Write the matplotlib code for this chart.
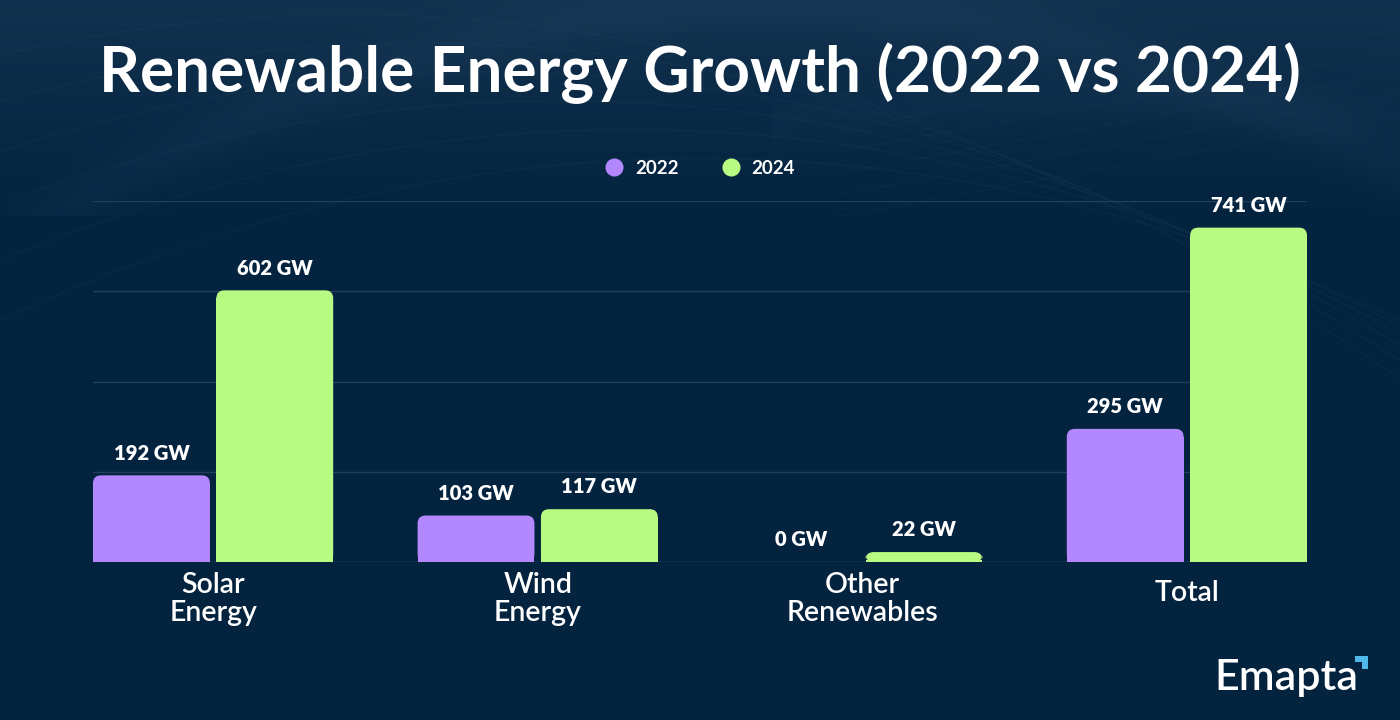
import numpy as np
import matplotlib
matplotlib.use("Agg")
import matplotlib.pyplot as plt
from matplotlib.patches import FancyBboxPatch, Polygon
from matplotlib.lines import Line2D

# ---- data ----
categories = ["Solar\nEnergy", "Wind\nEnergy", "Other\nRenewables", "Total"]
series_names = ["2022", "2024"]
values_2022 = [192, 103, 0, 295]
values_2024 = [602, 117, 22, 741]
yticks = [0, 200, 400, 600, 800]

# ---- style ----
BG = "#04233F"
C2022 = "#B388FF"
C2024 = "#B8FB82"
GRID = "#1F3F5C"
FONT = ["Lato", "DejaVu Sans"]
plt.rcParams["font.family"] = FONT

W, H = 14.0, 7.2
fig = plt.figure(figsize=(W, H), dpi=100)
fig.patch.set_facecolor(BG)

# background gradient (decorative)
bg = fig.add_axes([0, 0, 1, 1], zorder=-10)
bg.axis("off")
ny, nx = 360, 700
yy, xx = np.mgrid[0:ny, 0:nx]
yy = yy / ny
xx = xx / nx
base = np.array([4, 35, 63]) / 255.0
light = np.array([24, 55, 84]) / 255.0
t = np.clip(1 - yy / 0.33, 0, 1) ** 1.3
sw = 0.25 * np.exp(-((yy - (0.01 + 1.1 * (xx - 0.55) ** 2)) / 0.04) ** 2) * (yy < 0.3)
sw += 0.15 * np.exp(-((yy - (0.14 + 0.5 * (xx - 0.8) ** 2)) / 0.035) ** 2) * (xx > 0.55) * (yy < 0.35)
mix = np.clip(t * 0.75 + sw, 0, 1)[..., None]
img = base * (1 - mix) + light * mix
bg.imshow(img, extent=[0, 1, 0, 1], aspect="auto", origin="upper")
for k in range(6):
    xs = np.linspace(0.0, 1.0, 200)
    ys = 1 - (0.02 + 0.04 * k + 0.9 * (xs - 0.25 - 0.05 * k) ** 2)
    bg.plot(xs, ys, color="#3A5C7A", alpha=0.10, linewidth=1.0)
for k in range(5):
    xs = np.linspace(0.6, 1.0, 100)
    ys = 1 - (0.18 + 0.03 * k - 0.35 * (xs - 0.6))
    bg.plot(xs, ys, color="#3A5C7A", alpha=0.08, linewidth=1.0)
bg.set_xlim(0, 1)
bg.set_ylim(0, 1)

# main axes
ax = fig.add_axes([93 / 1400, 158 / 720, 1214 / 1400, 361 / 720])
ax.set_facecolor("none")
n = len(categories)
x = np.arange(n)
bw = 0.36
off = 0.19
ax.set_xlim(-0.37, n - 1 + 0.37)
ax.set_ylim(0, 800)
ax.set_yticks(yticks)
ax.yaxis.grid(True, color=GRID, linewidth=1.0)
ax.set_axisbelow(True)
for s in ax.spines.values():
    s.set_visible(False)
ax.tick_params(axis="y", left=False, labelleft=False)
ax.set_xticks(x)
ax.set_xticklabels([])
ax.tick_params(axis="x", length=0)

# category labels (two-line labels sit slightly lower, as in the reference)
ax_h_px = 361
for xi, cat in zip(x, categories):
    lines = cat.count("\n") + 1
    center_px = 37 if lines > 1 else 31
    ax.text(xi, -center_px / ax_h_px, cat, transform=ax.get_xaxis_transform(),
            ha="center", va="center", color="white", fontsize=20.5,
            fontweight="semibold", linespacing=1.07, multialignment="center")

fig.canvas.draw()
bbox = ax.get_window_extent()
rpx = 8
rx = rpx * (ax.get_xlim()[1] - ax.get_xlim()[0]) / bbox.width
ry = rpx * (ax.get_ylim()[1] - ax.get_ylim()[0]) / bbox.height

def rounded_bars(xs, vals, color):
    bars = ax.bar(xs, [max(v - ry, 0) if v > 0 else 0 for v in vals], width=bw,
                  color=color, linewidth=0, zorder=3)
    for b, v in zip(bars, vals):
        if v <= 0:
            continue
        p = FancyBboxPatch((b.get_x(), 0), bw, v,
                           boxstyle=f"round,pad=0,rounding_size={rx}",
                           mutation_aspect=ry / rx, facecolor=color,
                           linewidth=0, zorder=3)
        ax.add_patch(p)
    for xi, v in zip(xs, vals):
        ax.annotate(f"{v} GW", (xi, v), xytext=(0, 16), textcoords="offset points",
                    ha="center", va="center", color="white", fontsize=14.5,
                    fontweight="heavy")

rounded_bars(x - off, values_2022, C2022)
rounded_bars(x + off, values_2024, C2024)

ax.axhline(0, color="#2A4A66", linewidth=1.0, zorder=2)

# title
fig.text(0.5, 1 - 73 / 720, "Renewable Energy Growth (2022 vs 2024)", ha="center",
         va="center", color="white", fontsize=46, fontweight="bold")

# legend
handles = [Line2D([0], [0], marker="o", linestyle="none", markersize=13,
                  markerfacecolor=c, markeredgewidth=0) for c in (C2022, C2024)]
leg = fig.legend(handles, series_names, loc="center", bbox_to_anchor=(0.5, 1 - 168 / 720),
                 ncol=2, frameon=False, fontsize=13.5, columnspacing=2.3,
                 handletextpad=0.6, handlelength=1.0)
for tx in leg.get_texts():
    tx.set_color("white")
    tx.set_fontweight("bold")

# logo
fig.text(1214 / 1400, 1 - 678 / 720, "Emapta", ha="left", va="center", color="white",
         fontsize=31, fontweight="semibold")
lx0, ly0 = 1355 / 1400, 1 - 656 / 720
sx, sy = 13 / 1400, 13 / 720
logo = Polygon([[lx0, ly0], [lx0 + sx, ly0], [lx0 + sx, ly0 - sy], [lx0 + sx * 0.55, ly0 - sy],
                [lx0 + sx * 0.55, ly0 - sy * 0.45], [lx0, ly0 - sy * 0.45]],
               closed=True, transform=fig.transFigure, facecolor="#4FB8E8", edgecolor="none")
fig.patches.append(logo)

fig.savefig("out.png", dpi=100, facecolor=fig.get_facecolor())
